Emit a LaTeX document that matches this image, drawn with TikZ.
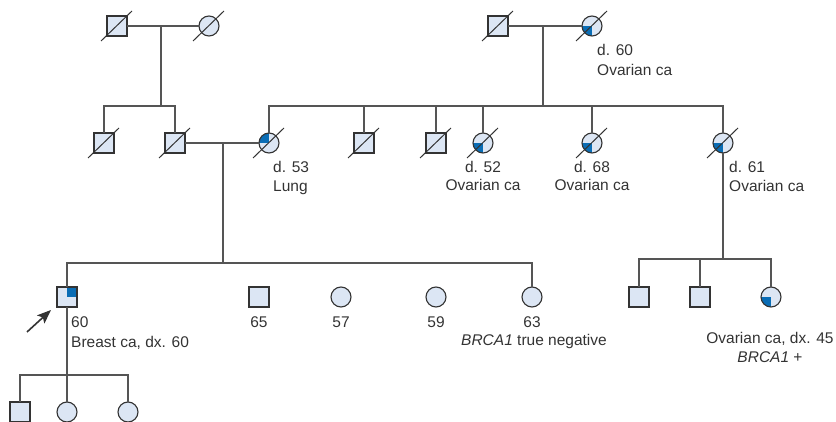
\documentclass[tikz,border=0pt]{standalone}
\usepackage{fontspec}
\setmainfont{Liberation Sans}
\usetikzlibrary{arrows.meta}
\definecolor{symfill}{HTML}{DCE6F4}
\definecolor{affblue}{HTML}{0A6DB5}
\definecolor{ink}{HTML}{333333}
\definecolor{linegray}{HTML}{555555}
\begin{document}
\begin{tikzpicture}[x=1pt,y=-1pt,
  sym/.style={draw=ink, line width=1.1pt, fill=symfill, minimum size=20pt, inner sep=0pt, outer sep=0pt},
  male/.style={sym, rectangle},
  female/.style={sym, circle},
  qsw/.style={path picture={\fill[affblue] (path picture bounding box.center) rectangle (path picture bounding box.south west);}},
  qnw/.style={path picture={\fill[affblue] (path picture bounding box.center) rectangle (path picture bounding box.north west);}},
  qne/.style={path picture={\fill[affblue] (path picture bounding box.center) rectangle (path picture bounding box.north east);}},
  conn/.style={draw=linegray, line width=1.3pt},
  slash/.style={draw=ink, line width=1pt},
  lbl/.style={text=ink, inner sep=0pt, font=\fontsize{15.5}{19}\selectfont}
]
\useasboundingbox (0,0) rectangle (836,422);

% ---- generation I ----
\node[male]   (i1) at (117,26) {};
\node[female] (i2) at (209,26) {};
\node[male]   (i3) at (498,26) {};
\node[female, qsw] (i4) at (592,26) {};

% ---- generation II ----
\node[male]   (ii1) at (104,143) {};
\node[male]   (ii2) at (175,143) {};
\node[female, qnw] (ii3) at (269,143) {};
\node[male]   (ii4) at (364,143) {};
\node[male]   (ii5) at (436,143) {};
\node[female, qsw] (ii6) at (483,143) {};
\node[female, qsw] (ii7) at (592,143) {};
\node[female, qsw] (ii8) at (723,143) {};

% ---- generation III ----
\node[male, qne] (iii1) at (67,297) {};
\node[male]   (iii2) at (259,297) {};
\node[female] (iii3) at (341,297) {};
\node[female] (iii4) at (436,297) {};
\node[female] (iii5) at (532,297) {};
\node[male]   (iii6) at (639,297) {};
\node[male]   (iii7) at (700,297) {};
\node[female, qsw] (iii8) at (771,297) {};

% ---- generation IV ----
\node[male]   (iv1) at (20,412) {};
\node[female] (iv2) at (67,412) {};
\node[female] (iv3) at (128,412) {};

% ---- couples and sibships ----
\coordinate (m1) at (161,26);
\coordinate (s1) at (161,106);
\draw[conn] (i1) -- (i2);
\draw[conn] (m1) -- (s1);
\draw[conn] (ii1.north) |- (s1) -| (ii2.north);

\coordinate (m2) at (543,26);
\coordinate (s2) at (543,106);
\draw[conn] (i3) -- (i4);
\draw[conn] (m2) -- (s2);
\draw[conn] (ii3.north) |- (s2) -| (ii8.north);
\foreach \n in {ii4,ii5,ii6,ii7}
  \draw[conn] (\n.north) -- (\n.north |- s2);

\coordinate (m3) at (223,143);
\coordinate (s3) at (223,263);
\draw[conn] (ii2) -- (ii3);
\draw[conn] (m3) -- (s3);
\draw[conn] (iii1.north) |- (s3) -| (iii5.north);

\coordinate (s4) at (723,259);
\draw[conn] (ii8.south) -- (s4);
\draw[conn] (iii6.north) |- (s4) -| (iii8.north);
\draw[conn] (iii7.north) -- (iii7.north |- s4);

\coordinate (s5) at (67,375);
\draw[conn] (iii1.south) -- (s5);
\draw[conn] (iv1.north) |- (s5) -| (iv3.north);
\draw[conn] (iv2.north) -- (s5);

% ---- deceased marks ----
\foreach \n in {i1,i2,i3,i4,ii1,ii2,ii3,ii4,ii5,ii6,ii7,ii8}
  \draw[slash] ([shift={(-16,15)}]\n.center) -- ([shift={(15,-15)}]\n.center);

% ---- proband arrow ----
\coordinate (pa) at (27,332);
\coordinate (pb) at (51,310);
\draw[ink, line width=1.6pt, -{Stealth[length=14pt,width=11pt,inset=3pt]}] (pa) -- (pb);

% ---- labels ----
\node[lbl, anchor=base west] (t60a) at (597,56) {d. 60};
\node[lbl, anchor=base west] (t60b) at (597,76) {Ovarian ca};
\node[lbl, anchor=base west] (t53a) at (273,173) {d. 53};
\node[lbl, anchor=base west] (t53b) at (273,192) {Lung};
\node[lbl, anchor=base] (t52a) at (483,173) {d. 52};
\node[lbl, anchor=base] (t52b) at (483,191) {Ovarian ca};
\node[lbl, anchor=base] (t68a) at (592,173) {d. 68};
\node[lbl, anchor=base] (t68b) at (592,191) {Ovarian ca};
\node[lbl, anchor=base west] (t61a) at (729,173) {d. 61};
\node[lbl, anchor=base west] (t61b) at (729,192) {Ovarian ca};

\node[lbl, anchor=base west] (p1) at (71,327) {60};
\node[lbl, anchor=base west] (p2) at (71,347) {Breast ca, dx. 60};
\node[lbl, anchor=base] (a65) at (259,327) {65};
\node[lbl, anchor=base] (a57) at (341,327) {57};
\node[lbl, anchor=base] (a59) at (436,327) {59};
\node[lbl, anchor=base] (a63) at (532,327) {63};
\node[lbl, anchor=base] (neg) at (534,345) {\textit{BRCA1} true negative};
\node[lbl, anchor=base] (c45) at (770,343) {Ovarian ca, dx. 45};
\node[lbl, anchor=base] (pos) at (770,362) {\textit{BRCA1} +};
\end{tikzpicture}
\end{document}
